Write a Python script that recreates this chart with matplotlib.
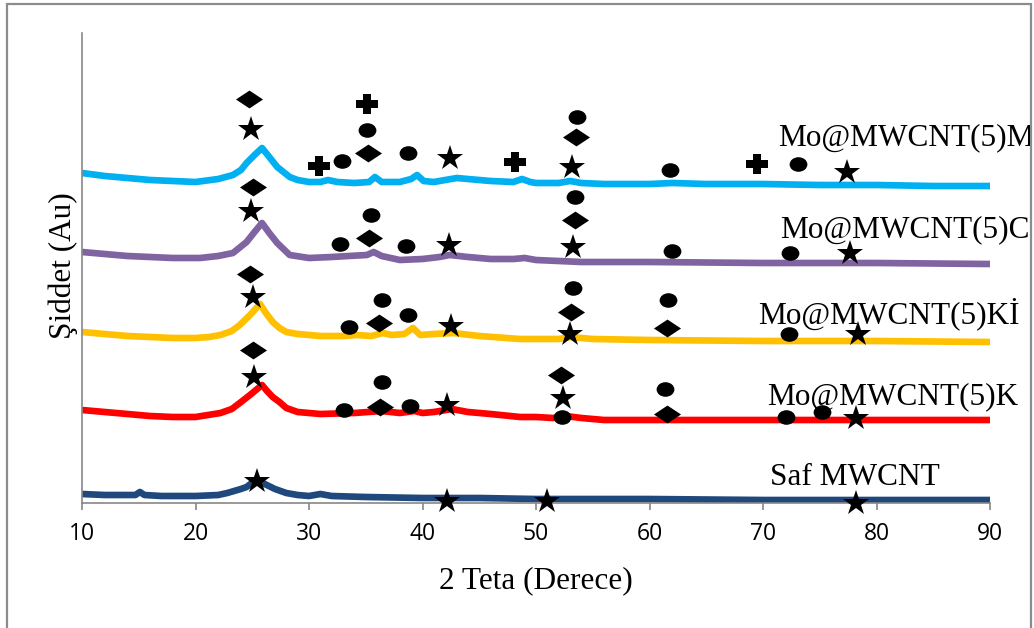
import matplotlib
matplotlib.use("Agg")
import matplotlib.pyplot as plt
import numpy as np
from matplotlib.path import Path
from matplotlib.patches import Rectangle
from matplotlib.transforms import Affine2D

# ---- XRD patterns (2θ in degrees, intensity in arbitrary units, stacked) ----
m_x = [10, 12, 14, 16, 18, 20, 22, 23.3, 24, 24.5, 25.2, 25.86, 26.5, 27.2, 28.3, 29, 30, 31,
       31.67, 32.5, 34, 35.3, 35.81, 36.4, 38, 39, 39.52, 40.1, 41, 42, 43.04, 44, 46, 48,
       48.77, 49.5, 50, 52, 53, 54, 56, 60, 62, 65, 70, 75, 80, 85, 90]
m_y = [330, 327, 325, 323, 322, 321, 324, 328, 333, 340, 348, 355, 346, 336, 326, 323, 321, 321,
       323, 321, 320, 321, 326, 321, 321, 324, 328, 322, 321, 323, 325, 324, 322, 321,
       324, 321, 320, 320, 322, 320, 319, 319, 320, 319, 319, 318, 318, 317, 317]

c_x = [10, 12, 14, 16, 18, 20.4, 22, 23.3, 24.5, 25.2, 25.86, 26.5, 27.2, 28.3, 30, 32, 33.5,
       35.1, 35.7, 36.4, 38, 40, 41.5, 42.4, 44, 46, 48, 49, 50, 52, 54, 60, 70, 80, 90]
c_y = [251, 249, 247, 246, 245, 245, 247, 250, 261, 271, 280, 270, 260, 248, 245, 246, 247,
       248, 251, 247, 243, 244, 246, 248, 246, 244, 244, 245, 243, 242, 241, 241, 240, 240, 239]

ki_x = [10, 12, 14, 16, 18, 20, 21.2, 22.2, 23.2, 23.9, 24.8, 25.68, 26.2, 26.8, 27.4, 28.0, 29,
        31, 33, 34.2, 35.5, 36.5, 37.3, 38.4, 39.16, 39.8, 41, 42.7, 45, 48.6, 52, 53, 55, 60,
        70, 80, 90]
ki_y = [171, 169, 167, 166, 165, 165, 166, 168, 172, 178, 188, 199, 190, 181, 175, 171, 169,
        167, 167, 168, 167, 170, 168, 169, 175, 168, 169, 170, 167, 164, 164, 166, 164, 163,
        162, 162, 161]

k_x = [10, 12, 14, 16, 18, 20, 22.2, 23.2, 23.9, 24.8, 25.86, 26.3, 26.8, 27.4, 28.0, 29, 31,
       34, 36.4, 38, 39.3, 40, 41, 42.6, 44, 46, 48.6, 50, 51.5, 52.6, 54, 56, 60, 70, 80, 90]
k_y = [93, 91, 89, 87, 86, 86, 90, 94, 100, 108, 118, 112, 106, 101, 95, 91, 89,
       90, 92, 90, 92, 90, 91, 94, 91, 89, 86, 86, 85, 87, 85, 83, 83, 83, 83, 83]

saf_x = [10, 12, 14, 14.7, 15.1, 15.5, 17, 20, 22, 22.8, 24, 24.5, 25.42, 26.1, 27, 28, 29, 30,
         31, 32, 35, 40, 45, 50, 60, 70, 80, 90]
saf_y = [9, 8, 8, 8, 11, 8, 7, 7, 8, 10, 14, 16, 24, 19, 14, 10, 8, 7,
         9, 7, 6, 5, 5, 4, 4, 3, 3, 3]

series_labels = ["Mo@MWCNT(5)M", "Mo@MWCNT(5)C", "Mo@MWCNT(5)Kİ", "Mo@MWCNT(5)K", "Saf MWCNT"]
label_x = [71.32, 71.50, 69.56, 70.35, 70.62]
label_y = [358, 266, 180, 99, 18]

# ---- phase markers (peak assignments) ----
star_x = [24.89, 42.42, 53.17, 77.40,
          24.89, 42.33, 53.26, 77.67,
          25.07, 42.51, 53.00, 78.37,
          25.15, 42.16, 52.38, 78.19,
          25.42, 42.16, 50.97, 78.19]
star_y = [374, 345, 336, 331,
          292, 258, 256, 250,
          206, 177, 169, 169,
          126, 98, 105, 85,
          22, 2, 2, 0]

diamond_x = [24.71, 35.20, 53.52,
             25.07, 35.29, 53.44,
             24.80, 36.17, 53.08, 61.54,
             25.07, 36.26, 52.20, 61.54]
diamond_y = [404, 350, 366,
             316, 265, 283,
             229, 180, 191, 175,
             153, 96, 128, 89]

circle_x = [35.11, 32.91, 38.72, 53.61, 61.81, 73.08,
            35.46, 32.73, 38.55, 53.44, 61.98, 72.38,
            33.52, 36.43, 38.72, 53.26, 61.63, 72.29,
            33.08, 36.43, 38.90, 52.29, 61.37, 72.03, 75.20]
circle_y = [373, 342, 350, 386, 333, 339,
            288, 259, 257, 306, 252, 250,
            176, 203, 188, 215, 203, 169,
            93, 121, 97, 86, 114, 86, 91]

cross_x = [35.11, 30.88, 48.15, 69.47]
cross_y = [399, 337, 341, 339]

x_ticks = [10, 20, 30, 40, 50, 60, 70, 80, 90]

# ---- marker shapes ----
diamond_path = Path([(-1, 0), (0, 0.66), (1, 0), (0, -0.66), (-1, 0)],
                    [Path.MOVETO, Path.LINETO, Path.LINETO, Path.LINETO, Path.CLOSEPOLY])
ellipse_path = Affine2D().scale(1, 0.82).transform_path(Path.unit_circle())
a = 0.38
_plus = [(-a, 1), (a, 1), (a, a), (1, a), (1, -a), (a, -a), (a, -1), (-a, -1),
         (-a, -a), (-1, -a), (-1, a), (-a, a), (-a, 1)]
cross_path = Path([(px, py * 0.88) for px, py in _plus],
                  [Path.MOVETO] + [Path.LINETO] * 11 + [Path.CLOSEPOLY])

W, H = 1034, 628
fig = plt.figure(figsize=(W / 100, H / 100), dpi=100)
fig.patch.set_facecolor("white")

# outer chart border
frame = Rectangle((7 / W, -0.05), (1031 - 7) / W, (H - 4) / H + 0.05,
                  transform=fig.transFigure, fill=False, edgecolor="#8c8c8c",
                  linewidth=1.6, zorder=0)
fig.add_artist(frame)

ax = fig.add_axes([82 / W, (H - 503) / H, (990 - 82) / W, (503 - 33) / H])
ax.set_xlim(10, 90)
ax.set_ylim(0, 470)

line_kw = dict(linewidth=4.8, solid_capstyle="butt", solid_joinstyle="round", zorder=2)
ax.plot(m_x, m_y, color="#00B0F0", **line_kw)
ax.plot(c_x, c_y, color="#8064A2", **line_kw)
ax.plot(ki_x, ki_y, color="#FFC000", **line_kw)
ax.plot(k_x, k_y, color="#FF0000", **line_kw)
ax.plot(saf_x, saf_y, color="#1F497D", **line_kw)

mk = dict(linestyle="none", color="black", markeredgewidth=0, clip_on=False, zorder=4)
ax.plot(star_x, star_y, marker="*", markersize=19, **mk)
ax.plot(diamond_x, diamond_y, marker=diamond_path, markersize=19.5, **mk)
ax.plot(circle_x, circle_y, marker=ellipse_path, markersize=12.8, **mk)
ax.plot(cross_x, cross_y, marker=cross_path, markersize=16.5, **mk)

clip_rect = Rectangle((0, 0), 1030 / W, 1, transform=fig.transFigure)
for txt, tx, ty in zip(series_labels, label_x, label_y):
    t = ax.text(tx, ty, txt, family="Liberation Serif", fontsize=22.5, color="black",
                ha="left", va="baseline", clip_on=True, zorder=5)
    t.set_clip_path(clip_rect)

for side in ("top", "right"):
    ax.spines[side].set_visible(False)
for side in ("left", "bottom"):
    ax.spines[side].set_color("#878787")
    ax.spines[side].set_linewidth(1.2)

ax.set_yticks([])
ax.set_xticks(x_ticks)
ax.set_xticklabels([str(v) for v in x_ticks], family="Open Sans", fontsize=16.5)
ax.tick_params(axis="x", direction="out", length=5, width=1.2, color="#878787", pad=9)

fig.text(536 / W, (H - 588) / H, "2 Teta (Derece)", family="Liberation Serif",
         fontsize=22.5, ha="center", va="baseline")
fig.text(63 / W, (H - 266) / H, "Şiddet (Au)", family="Liberation Serif",
         fontsize=22.5, ha="center", va="center", rotation=90)

fig.savefig("out.png", dpi=100, facecolor="white")
